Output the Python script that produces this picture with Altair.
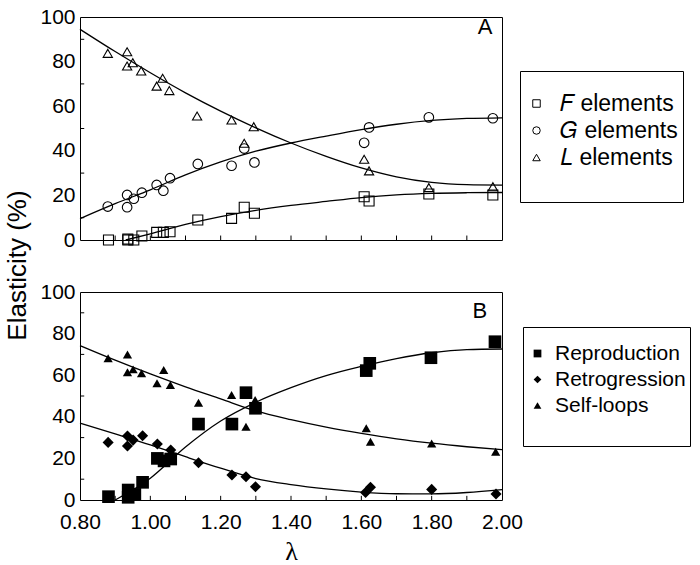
import altair as alt
import pandas as pd

# ---------------- Panel A: F, G, L elements (open symbols) ----------------
lam_F = [0.881, 0.936, 0.936, 0.953, 0.976, 1.018, 1.037, 1.056, 1.135, 1.231, 1.267, 1.296, 1.608, 1.622, 1.792, 1.974]
val_F = [0.0, 0.4, 0.0, 0.0, 1.8, 3.4, 3.4, 3.7, 9.0, 9.7, 14.7, 12.0, 19.4, 17.5, 20.6, 20.2]
lam_G = [0.879, 0.934, 0.934, 0.953, 0.976, 1.018, 1.037, 1.056, 1.135, 1.231, 1.267, 1.296, 1.608, 1.622, 1.792, 1.974]
val_G = [15.0, 20.2, 14.7, 18.5, 21.2, 24.7, 22.1, 27.7, 34.1, 33.3, 41.0, 34.8, 43.6, 50.5, 55.0, 54.6]
lam_L = [0.879, 0.934, 0.934, 0.950, 0.974, 1.018, 1.035, 1.054, 1.133, 1.231, 1.267, 1.294, 1.608, 1.622, 1.792, 1.974]
val_L = [83.7, 84.4, 78.0, 79.5, 75.8, 69.0, 72.5, 67.0, 55.6, 53.8, 43.4, 50.8, 36.2, 31.0, 23.5, 23.9]

# fitted curves, panel A
grid = [0.8, 0.9, 1.0, 1.1, 1.2, 1.3, 1.4, 1.5, 1.6, 1.7, 1.8, 1.9, 2.0]
fit_F_lam = [0.93, 1.0, 1.1, 1.2, 1.3, 1.4, 1.5, 1.6, 1.7, 1.8, 1.9, 2.0]
fit_F = [0.0, 2.8, 7.0, 10.5, 13.3, 15.5, 17.3, 19.0, 20.2, 20.9, 21.2, 21.3]
fit_G = [9.6, 16.3, 22.5, 29.2, 35.0, 39.8, 43.5, 46.6, 49.5, 51.9, 53.6, 54.5, 54.8]
fit_L = [94.5, 84.5, 75.0, 66.0, 57.8, 50.3, 43.5, 37.5, 32.3, 28.3, 25.8, 24.8, 24.6]

# ---------------- Panel B: Reproduction, Retrogression, Self-loops ----------------
lam_R = [0.881, 0.937, 0.937, 0.956, 0.978, 1.020, 1.039, 1.058, 1.137, 1.232, 1.272, 1.299, 1.614, 1.624, 1.798, 1.980]
val_R = [1.6, 4.8, 1.3, 2.7, 8.5, 20.0, 18.8, 19.7, 36.5, 36.5, 51.6, 44.1, 62.2, 65.7, 68.4, 76.1]
lam_T = [0.880, 0.935, 0.935, 0.951, 0.978, 1.020, 1.058, 1.137, 1.232, 1.272, 1.299, 1.612, 1.626, 1.800, 1.983]
val_T = [27.7, 30.8, 26.0, 28.8, 30.9, 26.9, 24.0, 17.9, 12.0, 11.2, 6.4, 3.6, 6.1, 5.1, 2.9]
lam_S = [0.880, 0.935, 0.935, 0.951, 0.975, 1.019, 1.038, 1.057, 1.137, 1.231, 1.272, 1.298, 1.614, 1.626, 1.800, 1.982]
val_S = [68.1, 70.0, 61.4, 62.8, 60.9, 56.1, 62.5, 55.3, 46.8, 50.5, 35.2, 48.1, 34.5, 28.0, 27.2, 23.2]

fit_R_lam = [0.9, 1.0, 1.1, 1.2, 1.3, 1.4, 1.5, 1.6, 1.7, 1.8, 1.9, 2.0]
fit_R = [0.0, 10.5, 25.5, 38.0, 47.0, 54.0, 59.8, 64.2, 68.0, 70.8, 72.3, 72.6]
fit_T = [37.0, 31.8, 26.5, 20.8, 15.3, 10.3, 7.4, 5.3, 3.8, 3.0, 2.9, 3.6, 5.0]
fit_S = [74.2, 67.2, 60.6, 54.4, 48.6, 42.8, 38.6, 35.0, 32.0, 29.4, 27.3, 25.6, 24.2]

# axis ticks / labels
x_label_vals = [0.8, 1.0, 1.2, 1.4, 1.6, 1.8, 2.0]
y_label_vals = [0, 20, 40, 60, 80, 100]
x_tick_vals = [0.9, 1.0, 1.1, 1.2, 1.3, 1.4, 1.5, 1.6, 1.7, 1.8, 1.9]
y_minor_vals = [10, 30, 50, 70, 90]

names_A = ["𝐹 elements", "𝐺 elements", "𝐿 elements"]
names_B = ["Reproduction", "Retrogression", "Self-loops"]
# blank last legend rows (keep the legend boxes as tall/wide as the original)
spacer_A = " " * 20
spacer_B = " " * 25

FONT = "Liberation Sans"


def frame(lams, vals, names, key):
    rows = []
    for lam, val, nm in zip(lams, vals, names):
        for a, b in zip(lam, val):
            rows.append({"lam": a, "v": b, key: nm})
    return pd.DataFrame(rows)


ptsA = frame([lam_F, lam_G, lam_L], [val_F, val_G, val_L], names_A, "elem")
fitA = frame([fit_F_lam, grid, grid], [fit_F, fit_G, fit_L], names_A, "elem")
ptsB = frame([lam_R, lam_T, lam_S], [val_R, val_T, val_S], names_B, "trans")
fitB = frame([fit_R_lam, grid, grid], [fit_R, fit_T, fit_S], names_B, "trans")

xticks_df = pd.DataFrame({"lam": x_tick_vals, "y0": [0.0] * len(x_tick_vals), "y1": [2.0] * len(x_tick_vals)})
yticks_df = pd.DataFrame({"v": y_minor_vals, "x0": [0.8] * len(y_minor_vals), "x1": [0.812] * len(y_minor_vals)})

xscale = alt.Scale(domain=[0.8, 2.0], nice=False, zero=False)
yscale = alt.Scale(domain=[0, 100], nice=False)

W = 422
TICK_FS = 21


def tick_layers():
    xt = alt.Chart(xticks_df).mark_rule(color="black", strokeWidth=1).encode(
        x=alt.X("lam:Q", scale=xscale), y=alt.Y("y0:Q", scale=yscale), y2="y1:Q")
    yt = alt.Chart(yticks_df).mark_rule(color="black", strokeWidth=1).encode(
        x=alt.X("x0:Q", scale=xscale), x2="x1:Q", y=alt.Y("v:Q", scale=yscale))
    return [xt, yt]


# ---------------- Panel A chart ----------------
xA = alt.X("lam:Q", scale=xscale, axis=alt.Axis(labels=False, ticks=False, domain=False, grid=False, title=None))
yA = alt.Y("v:Q", scale=yscale, axis=alt.Axis(values=y_label_vals, format="d", ticks=False, domain=False, grid=False,
                                              labelFont=FONT, labelFontSize=TICK_FS, labelColor="black",
                                              labelPadding=5, title="Elasticity (%)", titleFont=FONT,
                                              titleFontSize=26, titleFontWeight="normal", titleColor="black",
                                              titlePadding=9, titleY=248))

pointsA = alt.Chart(ptsA).mark_point(filled=False, color="black", strokeWidth=1.1, opacity=1).encode(
    x=xA, y=yA,
    shape=alt.Shape("elem:N",
                    scale=alt.Scale(domain=names_A + [spacer_A], range=["square", "circle", "triangle-up", "M0,0"]),
                    legend=alt.Legend(title=" ", titleFontSize=16, titlePadding=0, orient="none",
                                      legendX=440, legendY=54, strokeColor="black", fillColor="white",
                                      padding=5, labelFont=FONT, labelFontSize=23, labelColor="black",
                                      symbolSize=56, symbolStrokeWidth=1, symbolStrokeColor="black",
                                      labelOffset=12, rowPadding=3)),
    size=alt.Size("elem:N", scale=alt.Scale(domain=names_A, range=[100, 85, 170]), legend=None),
)
linesA = alt.Chart(fitA).mark_line(color="black", strokeWidth=1.3, interpolate="monotone").encode(
    x=alt.X("lam:Q", scale=xscale), y=alt.Y("v:Q", scale=yscale), detail="elem:N")
labA = alt.Chart(pd.DataFrame({"lam": [1.952], "v": [95.5], "t": ["A"]})).mark_text(
    font=FONT, fontSize=22, color="black", align="center", baseline="middle").encode(
    x=alt.X("lam:Q", scale=xscale), y=alt.Y("v:Q", scale=yscale), text="t:N")

panelA = alt.layer(linesA, pointsA, *tick_layers(), labA).properties(width=W, height=223)

# ---------------- Panel B chart ----------------
xB = alt.X("lam:Q", scale=xscale, axis=alt.Axis(values=x_label_vals, format=".2f", labelFlush=False, ticks=False,
                                                domain=False, grid=False, labelFont=FONT, labelFontSize=TICK_FS,
                                                labelColor="black", labelPadding=11, title="λ",
                                                titleFont="Liberation Serif", titleFontSize=26,
                                                titleFontWeight="normal", titleColor="black", titlePadding=6))
yB = alt.Y("v:Q", scale=yscale, axis=alt.Axis(values=y_label_vals, format="d", ticks=False, domain=False, grid=False,
                                              labelFont=FONT, labelFontSize=TICK_FS, labelColor="black",
                                              labelPadding=5, title=None))

pointsB = alt.Chart(ptsB).mark_point(filled=True, color="black", opacity=1).encode(
    x=xB, y=yB,
    shape=alt.Shape("trans:N",
                    scale=alt.Scale(domain=names_B + [spacer_B], range=["square", "diamond", "triangle-up", "M0,0"]),
                    legend=alt.Legend(title=" ", titleFontSize=12, titlePadding=0, orient="none",
                                      legendX=443, legendY=35, strokeColor="black", fillColor="white",
                                      padding=4, labelFont=FONT, labelFontSize=21, labelColor="black",
                                      symbolSize=60, symbolFillColor="black", symbolStrokeWidth=0,
                                      labelOffset=7, rowPadding=4)),
    size=alt.Size("trans:N", scale=alt.Scale(domain=names_B, range=[160, 85, 200]), legend=None),
)
linesB = alt.Chart(fitB).mark_line(color="black", strokeWidth=1.3, interpolate="monotone").encode(
    x=alt.X("lam:Q", scale=xscale), y=alt.Y("v:Q", scale=yscale), detail="trans:N")
labB = alt.Chart(pd.DataFrame({"lam": [1.937], "v": [91.0], "t": ["B"]})).mark_text(
    font=FONT, fontSize=22, color="black", align="center", baseline="middle").encode(
    x=alt.X("lam:Q", scale=xscale), y=alt.Y("v:Q", scale=yscale), text="t:N")

panelB = alt.layer(linesB, pointsB, *tick_layers(), labB).properties(width=W, height=208)

chart = alt.vconcat(panelA, panelB, spacing=52, bounds="flush").resolve_scale(
    shape="independent", size="independent").resolve_legend(shape="independent").properties(
    padding={"left": 4, "top": 5, "right": 0, "bottom": 0}, background="white"
).configure_view(stroke="black", strokeWidth=1)

chart.save("out.html", embed_options={"renderer": "svg", "actions": False})
